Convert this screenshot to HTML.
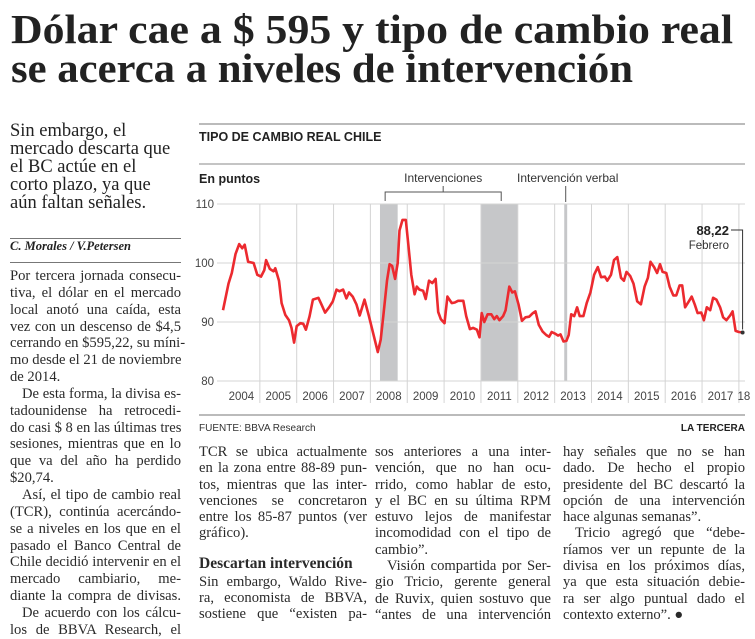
<!DOCTYPE html>
<html><head><meta charset="utf-8">
<style>
html,body{margin:0;padding:0;background:#fff;}
body{width:755px;height:633px;position:relative;overflow:hidden;font-family:"Liberation Serif",serif;color:#222;}
.abs{position:absolute;}
.col{position:absolute;font-family:"Liberation Serif",serif;font-size:14.6px;color:#2a2a2a;}
.col div{white-space:nowrap;text-align:justify;text-align-last:justify;height:16.3px;line-height:16.3px;overflow:visible;}
.col div.l{text-align-last:left;}
.col div.i{text-indent:12px;}
.rule{position:absolute;height:1px;background:#777;}
</style></head>
<body>
<svg class="abs" style="left:0;top:0" width="755" height="100">
 <text x="11" y="43" font-family="Liberation Serif" font-weight="bold" font-size="41" fill="#222" textLength="722" lengthAdjust="spacingAndGlyphs">Dólar cae a $ 595 y tipo de cambio real</text>
 <text x="11" y="82" font-family="Liberation Serif" font-weight="bold" font-size="41" fill="#222" textLength="622" lengthAdjust="spacingAndGlyphs">se acerca a niveles de intervención</text>
</svg>

<div class="abs" style="left:10px;top:122px;font-size:18.5px;line-height:18px;color:#222;">
<div>Sin embargo, el</div><div>mercado descarta que</div><div>el BC actúe en el</div><div>corto plazo, ya que</div><div>aún faltan señales.</div></div>
<div class="rule" style="left:10px;top:238px;width:171px;"></div>
<div class="abs" style="left:10px;top:239px;font-size:12.5px;font-weight:bold;font-style:italic;">C. Morales / V.Petersen</div>
<div class="rule" style="left:10px;top:262px;width:171px;"></div>

<div class="col" style="left:10px;top:268px;width:171px;">
<div style="height:16.85px">Por tercera jornada consecu-</div>
<div style="height:16.85px">tiva, el dólar en el mercado</div>
<div style="height:16.85px">local anotó una caída, esta</div>
<div style="height:16.85px">vez con un descenso de $4,5</div>
<div style="height:16.85px">cerrando en $595,22, su míni-</div>
<div style="height:16.85px">mo desde el 21 de noviembre</div>
<div class="l" style="height:16.85px">de 2014.</div>
<div class="i" style="height:16.85px">De esta forma, la divisa es-</div>
<div style="height:16.85px">tadounidense ha retrocedi-</div>
<div style="height:16.85px">do casi $ 8 en las últimas tres</div>
<div style="height:16.85px">sesiones, mientras que en lo</div>
<div style="height:16.85px">que va del año ha perdido</div>
<div class="l" style="height:16.85px">$20,74.</div>
<div class="i" style="height:16.85px">Así, el tipo de cambio real</div>
<div style="height:16.85px">(TCR), continúa acercándo-</div>
<div style="height:16.85px">se a niveles en los que en el</div>
<div style="height:16.85px">pasado el Banco Central de</div>
<div style="height:16.85px">Chile decidió intervenir en el</div>
<div style="height:16.85px">mercado cambiario, me-</div>
<div style="height:16.85px">diante la compra de divisas.</div>
<div class="i" style="height:16.85px">De acuerdo con los cálcu-</div>
<div style="height:16.85px">los de BBVA Research, el</div>
</div>

<div class="col" style="left:199px;top:444px;width:168px;">
<div>TCR se ubica actualmente</div>
<div>en la zona entre 88-89 pun-</div>
<div>tos, mientras que las inter-</div>
<div>venciones se concretaron</div>
<div>entre los 85-87 puntos (ver</div>
<div class="l">gráfico).</div>
<div class="l" style="height:14px"></div>
<div class="l" style="font-weight:bold;font-size:15.5px;height:18px">Descartan intervención</div>
<div>Sin embargo, Waldo Rive-</div>
<div>ra, economista de BBVA,</div>
<div>sostiene que “existen pa-</div>
</div>

<div class="col" style="left:375px;top:444px;width:176px;">
<div>sos anteriores a una inter-</div>
<div>vención, que no han ocu-</div>
<div>rrido, como hablar de esto,</div>
<div>y el BC en su última RPM</div>
<div>estuvo lejos de manifestar</div>
<div>incomodidad con el tipo de</div>
<div class="l">cambio”.</div>
<div class="i">Visión compartida por Ser-</div>
<div>gio Tricio, gerente general</div>
<div>de Ruvix, quien sostuvo que</div>
<div>“antes de una intervención</div>
</div>

<div class="col" style="left:563px;top:444px;width:182px;">
<div>hay señales que no se han</div>
<div>dado. De hecho el propio</div>
<div>presidente del BC descartó la</div>
<div>opción de una intervención</div>
<div class="l">hace algunas semanas”.</div>
<div class="i">Tricio agregó que “debe-</div>
<div>ríamos ver un repunte de la</div>
<div>divisa en los próximos días,</div>
<div>ya que esta situación debie-</div>
<div>ra ser algo puntual dado el</div>
<div class="l">contexto externo”. ●</div>
</div>

<svg id="chart" class="abs" style="left:0;top:0" width="755" height="440" font-family="Liberation Sans, sans-serif"></svg>

<script>
// Years since Jan 2004 and index values (Tipo de cambio real Chile)
const tYears = [0,.15,.24,.34,.44,.52,.59,.68,.83,.93,1.03,1.12,1.17,1.27,1.37,1.42,1.52,1.59,1.69,1.79,1.86,1.93,2.00,2.10,2.18,2.25,2.35,2.44,2.59,2.67,2.77,2.88,2.98,3.08,3.16,3.26,3.35,3.42,3.52,3.62,3.71,3.84,3.96,4.08,4.20,4.28,4.35,4.45,4.52,4.59,4.67,4.74,4.79,4.87,4.96,5.03,5.11,5.20,5.26,5.33,5.43,5.50,5.59,5.68,5.77,5.84,5.91,6.01,6.09,6.21,6.29,6.38,6.52,6.60,6.70,6.79,6.89,6.96,7.02,7.09,7.18,7.28,7.36,7.43,7.50,7.60,7.67,7.77,7.85,7.92,8.02,8.11,8.21,8.31,8.41,8.48,8.57,8.67,8.77,8.85,8.92,9.02,9.09,9.16,9.24,9.32,9.38,9.45,9.53,9.61,9.68,9.78,9.87,9.97,10.07,10.17,10.26,10.36,10.43,10.53,10.61,10.70,10.80,10.88,10.95,11.05,11.14,11.24,11.34,11.44,11.53,11.60,11.70,11.78,11.86,11.93,12.03,12.12,12.22,12.30,12.39,12.46,12.54,12.64,12.72,12.80,12.88,12.98,13.05,13.13,13.22,13.30,13.39,13.49,13.57,13.66,13.76,13.83,13.91,14.00,14.10];
const values = [92,96.5,98.3,101.5,103.2,102.5,103.1,100.2,100.0,98,97.7,98.8,100.5,99,98.6,99.1,97,93.2,91.2,90.3,89,86.5,89.3,89.8,89.7,88.7,91,93.8,94.1,93,91.6,92.5,93.5,95.5,95.2,95.5,94,95,94.3,93,91.1,93.8,91,88,84.9,87,91,97,99.8,99.5,97.3,100,105.5,107.3,107.3,103,98,94.7,96,95.5,95.3,93.9,97,96.6,97.3,91.7,90.5,89.8,94.3,93.2,93.3,93.6,93.6,91,88.8,89,88.7,87.4,91.5,90,91.3,91.3,90.5,91,90.3,91,92,96,95,95.2,93,90.2,90.8,90.9,91.5,91.8,89.5,88.4,87.8,87.5,88.3,88,87.7,87.9,86.7,86.8,87.8,91.3,91,92.5,91,91,93.2,95,98,99.3,97.6,97.7,97,98,100.5,101,97.5,97,98.5,97.8,96.5,93.5,93,96,97.5,100.2,99.3,98.3,99.8,98.5,98.3,96,94.5,94.5,96.2,96.2,92.5,93.5,94.3,93,91.5,91.6,90.3,92.5,92,94.1,93.8,92.5,90.8,90.3,91.1,91.8,88.5,88.3,88.22];
const yearLabels = ["2004","2005","2006","2007","2008","2009","2010","2011","2012","2013","2014","2015","2016","2017","18"];
const yTicks = [80,90,100,110];
const bandStarts = [4.26,7.0,9.26];
const bandEnds = [4.74,8.0,9.34];
const lastLabel = "88,22";

const NS="http://www.w3.org/2000/svg";
const svg=document.getElementById('chart');
const X0=223, YW=36.85, Xr=745;
const xs=t=>X0+t*YW;
const ys=v=>381-(v-80)*5.9;
function mk(tag,attrs,parent){const e=document.createElementNS(NS,tag);for(const k in attrs)e.setAttribute(k,attrs[k]);(parent||svg).appendChild(e);return e;}

// header rules and titles
let e;
e=mk('line',{x1:199,x2:745,y1:124,y2:124,stroke:'#777','stroke-width':1});


e=mk('text',{x:199,y:141,'font-size':12.5,'font-weight':'bold',fill:'#222'});e.textContent='TIPO DE CAMBIO REAL CHILE';


e=mk('line',{x1:199,x2:745,y1:164,y2:164,stroke:'#888','stroke-width':1});


e=mk('text',{x:199,y:183,'font-size':12.5,'font-weight':'bold',fill:'#222'});e.textContent='En puntos';



// bands
for(let i=0;i<bandStarts.length;i++){
 e=mk('rect',{x:xs(bandStarts[i]),y:ys(110),width:xs(bandEnds[i])-xs(bandStarts[i]),height:ys(80)-ys(110),fill:'#c6c7c9'});
 
 
}
// horizontal grid
yTicks.forEach(v=>{
 e=mk('line',{x1:217,x2:Xr,y1:ys(v),y2:ys(v),stroke:'#d4d4d4','stroke-width':1});
 
 
 e=mk('text',{x:214,y:ys(v)+4,'font-size':11.5,'text-anchor':'end',fill:'#444'});e.textContent=v;
 
 
});
// vertical year lines and labels
yearLabels.forEach((lab,i)=>{
 if(i>0){e=mk('line',{x1:xs(i),x2:xs(i),y1:ys(110),y2:403,stroke:'#d4d4d4','stroke-width':1});
 
 }
 const cx = i<yearLabels.length-1 ? xs(i+0.5) : xs(i)+5;
 e=mk('text',{x:cx,y:400,'font-size':11.5,'text-anchor':'middle',fill:'#444'});e.textContent=lab;
 
 
});
// line
let d='';tYears.forEach((t,i)=>{d+=(i?'L':'M')+xs(t).toFixed(1)+' '+ys(values[i]).toFixed(1);});
e=mk('path',{d:d,fill:'none',stroke:'#ec2a2f','stroke-width':2.6,'stroke-linejoin':'round'});


const lt=tYears[tYears.length-1], lv=values[values.length-1];
e=mk('circle',{cx:xs(lt),cy:ys(lv),r:2,fill:'#333'});


// last value callout
e=mk('polyline',{points:`731,230 ${xs(lt)},230 ${xs(lt)},${ys(lv)-3}`,fill:'none',stroke:'#333','stroke-width':1});


e=mk('text',{x:729,y:235,'font-size':13,'font-weight':'bold','text-anchor':'end',fill:'#222'});e.textContent=lastLabel;


e=mk('text',{x:729,y:249,'font-size':11.5,'text-anchor':'end',fill:'#333'});e.textContent='Febrero';


// annotations
const ax1=xs(4.4), ax2=xs(7.55), amid=(ax1+ax2)/2;
e=mk('polyline',{points:`${ax1},201 ${ax1},192 ${ax2},192 ${ax2},201`,fill:'none',stroke:'#555','stroke-width':1});


e=mk('line',{x1:amid,x2:amid,y1:186,y2:192,stroke:'#555','stroke-width':1});


e=mk('text',{x:amid,y:182,'font-size':12,'text-anchor':'middle',fill:'#333'});e.textContent='Intervenciones';


const vx=xs(9.3);
e=mk('line',{x1:vx,x2:vx,y1:186,y2:202,stroke:'#555','stroke-width':1});


e=mk('text',{x:517,y:182,'font-size':12,fill:'#333'});e.textContent='Intervención verbal';


// footer
e=mk('line',{x1:199,x2:745,y1:415,y2:415,stroke:'#777','stroke-width':1});


e=mk('text',{x:199,y:431,'font-size':10,fill:'#333'});e.textContent='FUENTE: BBVA Research';


e=mk('text',{x:745,y:431,'font-size':10,'font-weight':'bold','text-anchor':'end',fill:'#222'});e.textContent='LA TERCERA';


</script>
</body></html>
